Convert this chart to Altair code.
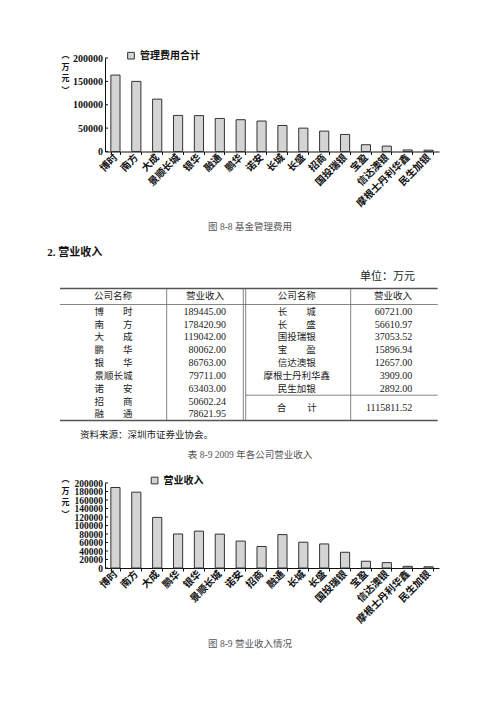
import altair as alt
import pandas as pd

# ---------------- data ----------------
fee_series = "管理费用合计"
fee_companies = ["博时", "南方", "大成", "景顺长城", "银华", "融通", "鹏华", "诺安",
                 "长城", "长盛", "招商", "国投瑞银", "宝盈", "信达澳银", "摩根士丹利华鑫", "民生加银"]
fee_values = [163500, 150000, 112000, 77200, 76800, 70700, 68000, 65200,
              55700, 50000, 43600, 36500, 14500, 11500, 3300, 2900]
fee_ticks = [0, 50000, 100000, 150000, 200000]

rev_series = "营业收入"
rev_companies = ["博时", "南方", "大成", "鹏华", "银华", "景顺长城", "诺安", "招商", "融通",
                 "长城", "长盛", "国投瑞银", "宝盈", "信达澳银", "摩根士丹利华鑫", "民生加银"]
rev_values = [189445.00, 178420.90, 119042.00, 80062.00, 86763.00, 79711.00, 63403.00, 50602.24, 78621.95,
              60721.00, 56610.97, 37053.52, 15896.94, 12657.00, 3909.00, 2892.00]
rev_ticks = [0, 20000, 40000, 60000, 80000, 100000, 120000, 140000, 160000, 180000, 200000]
rev_total = 1115811.52
left_count = 9

CJK = "Noto Sans CJK SC"
SERIF = "Liberation Serif"
MIX = "Liberation Serif, Noto Sans CJK SC"
ONE = alt.Data(values=[{}])

W = 334


def bar_panel(companies, values, series, ticks, h, title_y, lx, ly, caption, cap_y, lsize, extra=None):
    df = pd.DataFrame({"公司": companies, "值": values, "系列": series})
    yaxis = alt.Axis(values=ticks, format="d", grid=False, labelOverlap=False,
                     title=["︵", "万", "元", "︶"], titleAngle=0, titleX=-40, titleY=title_y,
                     titleAlign="center", titleBaseline="top", titleLineHeight=11.6,
                     titleFont=CJK, titleFontSize=8, titleFontWeight="bold",
                     titleColor="#111111",
                     labelFont=SERIF, labelFontWeight="bold", labelFontSize=lsize,
                     labelColor="#111111", tickSize=0, labelPadding=2.5,
                     domainColor="#111111")
    yscale = alt.Scale(domain=[0, 200000], nice=False)
    bars = alt.Chart(df).mark_bar(stroke="#333333", strokeWidth=1).encode(
        x=alt.X("公司:N", sort=companies,
                scale=alt.Scale(paddingInner=0.56, paddingOuter=0.28),
                axis=alt.Axis(title=None, labelAngle=315, labelAlign="right", labelBaseline="middle",
                              tickBand="extent", tickSize=3, labelPadding=1,
                              domainColor="#111111", tickColor="#111111",
                              labelFont=CJK, labelFontWeight="bold", labelFontSize=10,
                              labelColor="#111111")),
        y=alt.Y("值:Q", scale=yscale, axis=yaxis),
        color=alt.Color("系列:N", scale=alt.Scale(range=["#d4d4d4"]),
                        legend=alt.Legend(title=None, orient="none", legendX=lx, legendY=ly,
                                          symbolType="square", symbolSize=45,
                                          symbolStrokeColor="#333333", symbolStrokeWidth=1,
                                          labelFont=CJK, labelFontSize=10, labelFontWeight="bold",
                                          labelColor="#111111", labelOffset=4, padding=0)),
    )
    tdf = pd.DataFrame({"值": ticks})
    inner_ticks = alt.Chart(tdf).mark_rule(color="#111111", strokeWidth=1).encode(
        x=alt.value(0), x2=alt.value(3), y=alt.Y("值:Q", scale=yscale, axis=yaxis))
    cap = alt.Chart(ONE).mark_text(font=MIX, fontSize=9.5, color="#555555",
                                   align="center", baseline="middle").encode(
        x=alt.value(145), y=alt.value(cap_y), text=alt.value(caption))
    layers = [bars, inner_ticks, cap]
    if extra is not None:
        layers += extra
    return alt.layer(*layers).properties(width=W, height=h)


# invisible frame rule that pins the page origin (top-left page corner)
anchor = alt.Chart(ONE).mark_rule(opacity=0).encode(
    x=alt.value(-97), x2=alt.value(387), y=alt.value(-49.3))

panelA = bar_panel(fee_companies, fee_values, fee_series, fee_ticks, 93.5, -6.5,
                   21, -7.3, "图 8-8  基金管理费用", 169.4, 10, extra=[anchor])


# ---------------- table panel ----------------
def disp(name):
    return name[0] + "　　" + name[1] if len(name) == 2 else name


left_df = pd.DataFrame({"name": [disp(c) for c in rev_companies[:left_count]],
                        "value": rev_values[:left_count],
                        "row": list(range(left_count))})
right_df = pd.DataFrame({"name": [disp(c) for c in rev_companies[left_count:]],
                         "value": rev_values[left_count:],
                         "row": list(range(len(rev_companies) - left_count))})
total_df = pd.DataFrame({"name": ["合　　 计"], "value": [rev_total], "row": [7.5]})

row_y = alt.Y("row:Q", scale=alt.Scale(domain=[-12.46, 13.32], reverse=True, nice=False, zero=False),
              axis=None)


def name_layer(df, xc):
    return alt.Chart(df).mark_text(font=CJK, fontSize=9.5, color="#222222",
                                   align="center", baseline="middle").encode(
        x=alt.value(xc), y=row_y, text="name:N")


def value_layer(df, xr):
    return alt.Chart(df).mark_text(font=SERIF, fontSize=10, color="#222222",
                                   align="right", baseline="middle").encode(
        x=alt.value(xr), y=row_y, text=alt.Text("value:Q", format=".2f"))


def label(txt, x, y, align="left", size=10, weight="normal", color="#222222", font=CJK):
    return alt.Chart(ONE).mark_text(font=font, fontSize=size, fontWeight=weight, color=color,
                                    align=align, baseline="middle").encode(
        x=alt.value(x), y=alt.value(y), text=alt.value(txt))


def hline(x1, x2, y, w=0.8, c="#666666"):
    return alt.Chart(ONE).mark_rule(color=c, strokeWidth=w).encode(
        x=alt.value(x1), x2=alt.value(x2), y=alt.value(y))


def vline(x, y1, y2, w=0.8, c="#666666"):
    return alt.Chart(ONE).mark_rule(color=c, strokeWidth=w).encode(
        x=alt.value(x), y=alt.value(y1), y2=alt.value(y2))


T_TOP, T_HEAD, T_MID, T_BOT = 136.5, 152.5, 243.2, 268.5
T_L, T_R = -45, 332.7

table_layers = [
    label("2. 营业收入", -57.7, 100.9, size=11, weight="bold", color="#111111", font=MIX),
    label("单位：万元", 310, 125.2, align="right", size=11),
    hline(T_L, T_R, T_TOP, w=1.6, c="#555555"),
    hline(T_L, T_R, T_HEAD, w=0.8),
    hline(140.7, T_R, T_MID, w=0.8),
    hline(T_L, T_R, T_BOT, w=1.6, c="#555555"),
    vline(61.7, T_TOP, T_BOT),
    vline(138.3, T_TOP, T_BOT),
    vline(140.7, T_TOP, T_BOT),
    vline(245.7, T_TOP, T_BOT),
    label("公司名称", 8, 144.2, align="center", size=9.5),
    label("营业收入", 100, 144.2, align="center", size=9.5),
    label("公司名称", 191.7, 144.2, align="center", size=9.5),
    label("营业收入", 288, 144.2, align="center", size=9.5),
    name_layer(left_df, 8.5),
    value_layer(left_df, 121),
    name_layer(right_df, 191.7),
    value_layer(right_df, 307.3),
    name_layer(total_df, 191.7),
    value_layer(total_df, 307.3),
    label("资料来源：深圳市证券业协会。", -25, 282.5, size=9.5),
    label("表 8-9  2009 年各公司营业收入", 145, 302.5, align="center", size=9.5,
          color="#555555", font=MIX),
]
panelB = alt.layer(*table_layers).properties(width=W, height=330.7)

panelC = bar_panel(rev_companies, rev_values, rev_series, rev_ticks, 85, -7.5,
                   44.6, -7.5, "图 8-9  营业收入情况", 161.2, 9.5)

chart = alt.vconcat(panelA, panelB, panelC, spacing=0, bounds="flush").resolve_scale(
    color="independent").resolve_legend(color="independent").properties(
    padding=0).configure_view(stroke=None)

chart.save("out.html", embed_options={"renderer": "svg", "actions": False})
